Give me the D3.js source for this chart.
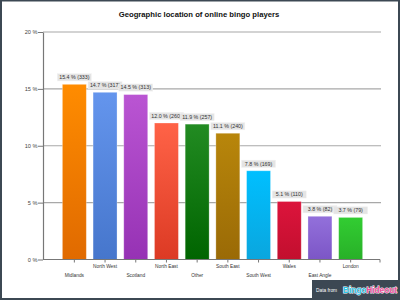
<!DOCTYPE html>
<html>
<head>
<meta charset="utf-8">
<script src="https://cdn.jsdelivr.net/npm/d3@7"></script>
<style>
  body { margin: 0; background: #fff; }
  svg { display: block; font-family: "Liberation Sans", Arial, sans-serif; }
</style>
</head>
<body>
<svg id="chart" width="400" height="300"></svg>
<script>
// data
var regions = ["Midlands", "North West", "Scotland", "North East", "Other",
               "South East", "South West", "Wales", "East Angle", "London"];
var percents = [15.4, 14.7, 14.5, 12.0, 11.9, 11.1, 7.8, 5.1, 3.8, 3.7];
var counts = [333, 317, 313, 260, 257, 240, 169, 110, 82, 79];
var yTicks = [0, 5, 10, 15, 20];

// top / bottom colours for each bar
var topColors = ["#ff8c00", "#6495ed", "#ba55d3", "#ff6347", "#228b22",
                 "#b8860b", "#00bfff", "#dc143c", "#9370db", "#32cd32"];
var bottomColors = ["#e06a00", "#4676cc", "#9632b4", "#dc3a24", "#006400",
                    "#9a6a06", "#0aa6de", "#c20f2e", "#7c56c6", "#28b028"];

function drawChart() {
    var svg = d3.select("#chart"),
        plotLeft = 43, plotRight = 381, plotTop = 32, plotBottom = 259.5;

    var defs = svg.append("defs");
    regions.forEach(function(r, i) {
        var gr = defs.append("linearGradient")
            .attr("id", "grad" + i)
            .attr("x1", 0).attr("y1", 0).attr("x2", 0).attr("y2", 1);
        gr.append("stop").attr("offset", "0%").attr("stop-color", topColors[i]);
        gr.append("stop").attr("offset", "100%").attr("stop-color", bottomColors[i]);
    });

    svg.append("rect")
        .attr("width", 400).attr("height", 300)
        .attr("fill", "#fff");

    var x = d3.scaleBand()
        .domain(regions)
        .range([59, 366])
        .paddingInner(0.22)
        .paddingOuter(0.11);

    var y = d3.scaleLinear()
        .domain([0, 20])
        .range([plotBottom, plotTop]);

    // title
    svg.append("text")
        .attr("x", 199).attr("y", 16.5)
        .attr("text-anchor", "middle")
        .attr("font-size", 7.7)
        .attr("font-weight", "bold")
        .attr("fill", "#111")
        .text("Geographic location of online bingo players");

    // gridlines
    svg.append("g").selectAll("line")
        .data(yTicks.slice(1))
        .enter().append("line")
        .attr("x1", plotLeft).attr("x2", plotRight)
        .attr("y1", function(d) { return y(d); })
        .attr("y2", function(d) { return y(d); })
        .attr("stroke", "#a8a8a8")
        .attr("stroke-width", 1.2);

    // y axis
    var yAxis = svg.append("g")
        .attr("transform", "translate(" + plotLeft + ",0)")
        .call(d3.axisLeft(y).tickValues(yTicks).tickSize(5).tickSizeOuter(0)
            .tickFormat(function(d) { return d + " %"; }));
    yAxis.select(".domain").attr("stroke", "#777").attr("stroke-width", 1.2);
    yAxis.selectAll(".tick line").attr("stroke", "#777");
    yAxis.selectAll("text")
        .attr("x", -5.5)
        .attr("font-size", 5.6)
        .attr("font-family", "Liberation Sans, Arial, sans-serif")
        .attr("fill", "#444");

    // bars
    svg.append("g").selectAll("rect")
        .data(regions)
        .enter().append("rect")
        .attr("x", function(d) { return x(d); })
        .attr("y", function(d, i) { return y(percents[i]); })
        .attr("width", x.bandwidth())
        .attr("height", function(d, i) { return plotBottom - y(percents[i]); })
        .attr("fill", function(d, i) { return "url(#grad" + i + ")"; })
        .attr("stroke", "rgba(255,255,255,0.35)")
        .attr("stroke-width", 0.8);

    // x axis
    var xAxis = svg.append("g")
        .attr("transform", "translate(0," + plotBottom + ")")
        .call(d3.axisBottom(x).tickSize(3).tickSizeOuter(0));
    xAxis.select(".domain").remove();
    xAxis.selectAll(".tick line").attr("stroke", "#777");
    xAxis.selectAll("text")
        .attr("y", function(d, i) { return i % 2 ? 5 : 14; })
        .attr("font-size", 4.8)
        .attr("font-family", "Liberation Sans, Arial, sans-serif")
        .attr("fill", "#333");
    xAxis.append("line")
        .attr("x1", plotLeft).attr("x2", 380)
        .attr("stroke", "#777").attr("stroke-width", 1.2);
    xAxis.append("line")
        .attr("x1", 380).attr("x2", 380).attr("y2", 3)
        .attr("stroke", "#777");

    // value labels, drawn in order so later ones cover earlier ones
    svg.append("g").selectAll("g")
        .data(regions)
        .enter().append("g")
        .attr("transform", function(d, i) {
            return "translate(" + (x(d) + x.bandwidth() / 2) + "," + (y(percents[i]) - 7) + ")";
        })
        .each(function(d, i) {
            var g = d3.select(this);
            g.append("rect")
                .attr("x", -17).attr("y", -3.6)
                .attr("width", 34).attr("height", 7.2)
                .attr("fill", "#e4e4e4")
                .attr("stroke", "#f2f2f2")
                .attr("stroke-width", 0.5);
            g.append("text")
                .attr("text-anchor", "middle")
                .attr("dy", "0.35em")
                .attr("font-size", 5.3)
                .attr("fill", "#333")
                .text(percents[i].toFixed(1) + " % (" + counts[i] + ")");
        });

    // logo box bottom right
    svg.append("rect")
        .attr("x", 312).attr("y", 280).attr("width", 88).attr("height", 20)
        .attr("fill", "#3c4853");
    svg.append("text")
        .attr("x", 316).attr("y", 291.5)
        .attr("font-size", 4.8)
        .attr("fill", "#fff")
        .text("Data from");
    var logo = svg.append("text")
        .attr("x", 343).attr("y", 293)
        .attr("font-size", 9)
        .attr("font-weight", "bold")
        .attr("textLength", 54)
        .attr("lengthAdjust", "spacingAndGlyphs")
        .attr("stroke", "#fff")
        .attr("stroke-width", 0.9)
        .attr("paint-order", "stroke");
    logo.append("tspan").attr("fill", "#2ec4e8").text("Bingo");
    logo.append("tspan").attr("fill", "#f04d9c").text("Hideout");

    // frame
    svg.append("rect")
        .attr("x", 1).attr("y", 0.5).attr("width", 398).attr("height", 298.5)
        .attr("fill", "none")
        .attr("stroke", "#3c4853")
        .attr("stroke-width", 2);
}

drawChart();
</script>
</body>
</html>
